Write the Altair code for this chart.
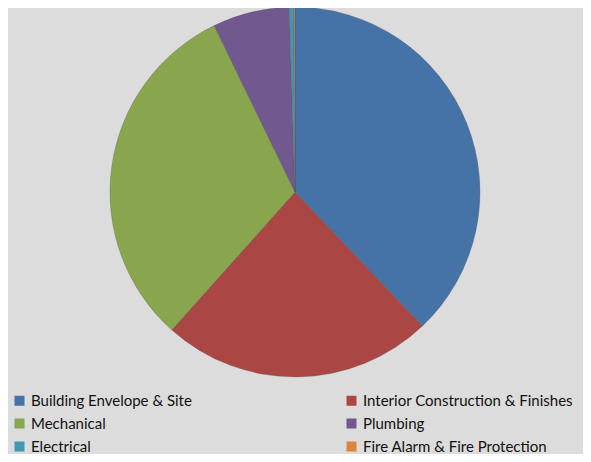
import altair as alt
import pandas as pd

categories = ["Building Envelope & Site", "Interior Construction & Finishes", "Mechanical",
              "Plumbing", "Electrical", "Fire Alarm & Fire Protection"]
values = [37.9, 23.7, 31.2, 6.7, 0.4, 0.1]
colors = ["#4572A7", "#AA4643", "#89A54E", "#71588F", "#4198AF", "#DB843D"]

# legend is laid out column by column: left column first, then right column
legend_order = [0, 2, 4, 1, 3, 5]
legend_domain = [categories[i] for i in legend_order]
legend_range = [colors[i] for i in legend_order]

df = pd.DataFrame({"category": categories, "value": values, "order": list(range(len(categories)))})

chart = alt.Chart(df).mark_arc(radius=185, stroke="#555555", strokeWidth=0.3).encode(
    theta=alt.Theta("value:Q", stack=True),
    order=alt.Order("order:Q"),
    x=alt.value(287),
    y=alt.value(184),
    color=alt.Color(
        "category:N",
        scale=alt.Scale(domain=legend_domain, range=legend_range),
        legend=alt.Legend(
            title=None,
            orient="none",
            legendX=4,
            legendY=385,
            columns=2,
            columnPadding=152,
            rowPadding=7,
            symbolType="square",
            symbolSize=100,
            symbolStrokeWidth=0,
            labelFontSize=15,
            labelFont="Lato",
            labelColor="#111111",
            labelLimit=400,
            padding=0,
        ),
    ),
).properties(
    width=575, height=446, autosize=alt.AutoSizeParams(type="none"), padding=0,
    background="#dcdcdc",
).configure_view(stroke=None)

chart.save("out.html", embed_options={"renderer": "svg", "actions": False})
